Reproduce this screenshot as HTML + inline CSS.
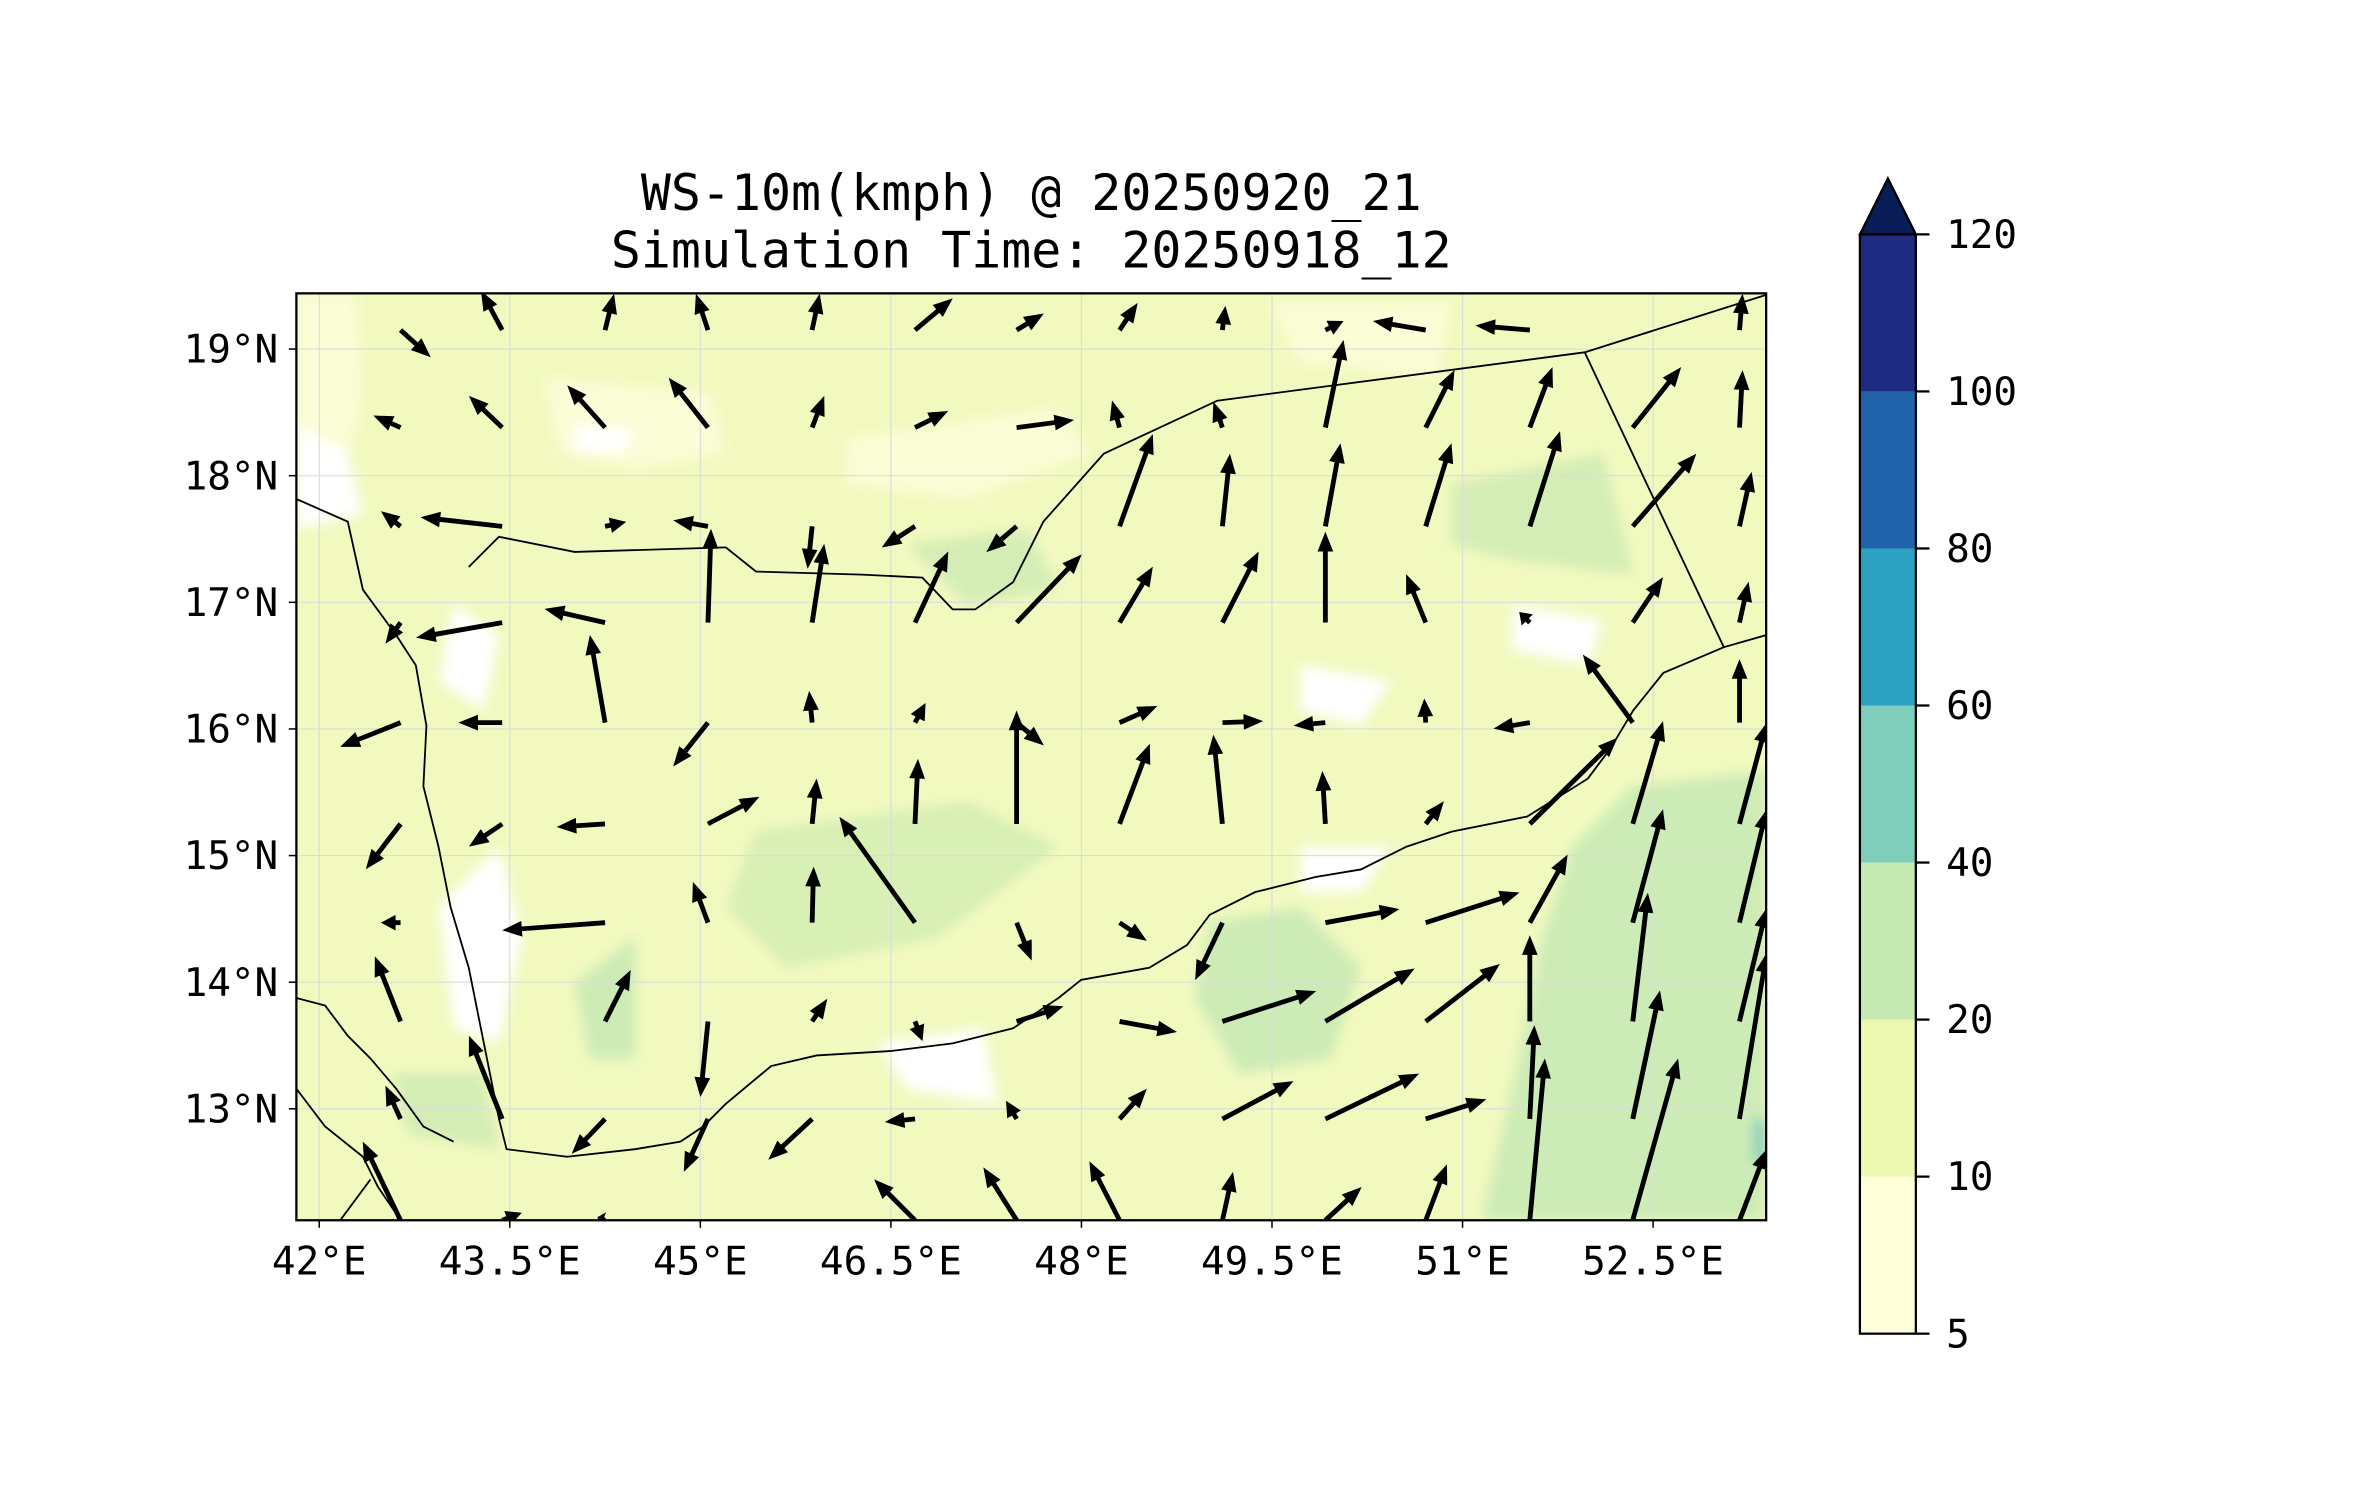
<!DOCTYPE html>
<html><head><meta charset="utf-8"><style>
html,body{margin:0;padding:0;background:#fff;}
svg{display:block;}
text{font-family:"DejaVu Sans Mono","Liberation Mono",monospace;fill:#000;}
</style></head><body>
<svg id="fig" width="2371" height="1500" viewBox="0 0 1568 992" preserveAspectRatio="none" xmlns="http://www.w3.org/2000/svg">
<defs>
<clipPath id="pc"><rect x="196" y="194" width="972" height="613"/></clipPath>
<filter id="bl"><feGaussianBlur stdDeviation="4"/></filter>
</defs>
<text x="682" y="139" font-size="33" text-anchor="middle">WS-10m(kmph) @ 20250920_21</text>
<text x="682" y="177" font-size="33" text-anchor="middle">Simulation Time: 20250918_12</text>
<g id="plot" clip-path="url(#pc)">
<rect x="196" y="194" width="972" height="613" fill="#f1f9bf"/>
<g filter="url(#bl)">
<path d="M196,194 L235,194 L240,260 L225,330 L196,330Z" fill="#fbfdd6"/>
<path d="M290,600 L330,560 L345,620 L330,690 L300,680Z" fill="#ffffff"/>
<path d="M300,400 L330,420 L320,470 L290,450Z" fill="#ffffff"/>
<path d="M196,280 L230,300 L240,340 L196,350Z" fill="#ffffff"/>
<path d="M360,250 L470,260 L480,300 L420,310 L370,300Z" fill="#fbfdd6"/>
<path d="M380,280 L420,285 L410,300 L380,298Z" fill="#ffffff"/>
<path d="M560,290 L700,270 L720,300 L640,330 L560,320Z" fill="#fbfdd6"/>
<path d="M840,200 L960,200 L950,250 L860,240Z" fill="#fbfdd6"/>
<path d="M1000,400 L1060,410 L1050,440 L1000,430Z" fill="#ffffff"/>
<path d="M860,440 L920,450 L900,480 L860,470Z" fill="#ffffff"/>
<path d="M860,560 L920,560 L900,590 L860,590Z" fill="#ffffff"/>
<path d="M580,690 L650,680 L660,730 L600,720Z" fill="#ffffff"/>
<path d="M380,650 L420,620 L420,700 L390,700Z" fill="#cdebb6"/>
<path d="M500,550 L640,530 L700,560 L620,620 L520,640 L480,600Z" fill="#d8efb5"/>
<path d="M1040,560 L1080,520 L1168,510 L1168,807 L980,807 L1000,720 L1020,620Z" fill="#cdebb6"/>
<path d="M800,610 L860,600 L900,640 L880,700 L820,710 L790,660Z" fill="#cdebb6"/>
<path d="M960,320 L1060,300 L1080,380 L1000,370 L960,360Z" fill="#d4edb6"/>
<path d="M600,360 L680,350 L700,390 L640,400Z" fill="#d4edb6"/>
<path d="M260,710 L320,710 L330,760 L270,750Z" fill="#d4edb6"/>
<path d="M1160,740 L1168,740 L1168,770 L1160,770Z" fill="#7fcdbb"/>
</g>
<g id="grid" stroke="#dcdcdc" stroke-width="0.8"></g>
<g fill="none" stroke="#000" stroke-width="1.2">
<path d="M196,330 L230,345 L240,390 L262,420 L275,440 L282,480 L280,520 L290,560 L298,600 L310,640 L320,690 L330,740 L335,760 L375,765 L420,760 L450,755 L465,745 L480,730 L510,705 L540,698 L590,695 L630,690 L670,680 L700,660 L715,648 L760,640 L785,625 L800,605 L830,590 L870,580 L900,575 L930,560 L960,550 L1010,540 L1050,515 L1065,495 L1080,470 L1100,445 L1140,428 L1168,420"/>
<path d="M196,660 L215,665 L230,685 L245,700 L262,720 L280,745 L300,755 M196,720 L215,745 L240,765 L250,785 L265,807 M225,807 L245,780"/>
<path d="M310,375 L330,355 L380,365 L480,362 L500,378 L570,380 L610,382 L630,403 L645,403 L670,385 L690,345 L730,300 L805,265 L1048,233 L1168,195"/>
<path d="M1048,233 L1140,428"/>
</g>
<g id="arrows" fill="#000"></g>
</g>
<rect x="196" y="194" width="972" height="613" fill="none" stroke="#000" stroke-width="1.5"/>
<g id="axes"></g>
<g id="cbar"></g>
</svg>
<script>
// axis mapping (lon/lat -> display px)
const lonMin=41.82, lonMax=53.39, latMin=12.12, latMax=19.44;
const X0=196,X1=1168,Y0=194,Y1=807;
const lonTicks=[42,43.5,45,46.5,48,49.5,51,52.5];
const lonLabels=["42°E","43.5°E","45°E","46.5°E","48°E","49.5°E","51°E","52.5°E"];
const latTicks=[19,18,17,16,15,14,13];
const latLabels=["19°N","18°N","17°N","16°N","15°N","14°N","13°N"];
const gridLon=[42.64,43.44,44.25,45.06,45.88,46.69,47.49,48.30,49.11,49.92,50.71,51.53,52.34,53.18];
const gridLat=[19.15,18.38,17.60,16.84,16.05,15.25,14.47,13.69,12.92,12.12];
const uWind=[
[20,-14,6,-8,5,25,18,12,2,12,-35,-36,null,2],
[-18,-22,-25,-26,8,22,38,-5,-6,12,19,15,32,2],
[-13,-54,14,-23,-3,-22,-20,22,5,10,17,20,42,8],
[-10,-57,-40,2,8,22,43,22,24,0,-13,-7,20,6],
[-40,-29,-10,-23,-2,7,18,25,27,-21,-1,-24,-33,0],
[-23,-22,-32,34,3,2,0,20,-6,-2,12,58,20,18],
[-13,null,-68,-10,1,-50,10,18,-18,49,62,25,20,18],
[-17,null,17,-5,10,5,31,38,62,59,49,0,10,18],
[-10,-22,-22,-16,-29,-20,-7,18,47,62,40,3,18,18],
[-25,13,-5,null,null,-27,-22,-20,7,24,14,10,30,18]];
const vWind=[
[-18,26,24,24,24,21,11,18,16,6,6,3,null,24],
[8,21,28,33,21,11,5,18,17,58,38,40,40,38],
[10,6,3,4,-28,-14,-17,61,48,55,55,63,48,36],
[-14,-10,9,62,52,47,45,37,47,60,32,7,30,27],
[-16,0,58,-29,21,13,-15,11,1,-2,16,-4,45,42],
[-30,-15,-2,18,30,43,75,53,59,35,15,57,68,67],
[0,null,-5,27,37,70,-25,-12,-38,9,20,45,75,75],
[43,null,34,-50,15,-13,10,-7,20,35,38,57,85,75],
[22,55,-23,-35,-27,-2,12,20,25,30,13,62,85,110],
[52,5,2,null,null,27,35,39,32,22,37,107,107,47]];
const cbLevels=[5,10,20,40,60,80,100,120];
const cbColors=["#ffffd9","#edf8b1","#c7e9b4","#7fcdbb","#2ca1c2","#2163aa","#1d2c80"];
const cbLabels=["5","10","20","40","60","80","100","120"];

const NS="http://www.w3.org/2000/svg";
function xS(lon){return X0+(lon-lonMin)/(lonMax-lonMin)*(X1-X0);}
function yS(lat){return Y0+(latMax-lat)/(latMax-latMin)*(Y1-Y0);}
function mk(tag,at,parent){const e=document.createElementNS(NS,tag);for(const k in at)e.setAttribute(k,at[k]);parent.appendChild(e);return e;}

const grid=document.getElementById('grid');
lonTicks.forEach(t=>{const l=mk('line',{x1:xS(t),x2:xS(t),y1:Y0,y2:Y1},grid);

});
latTicks.forEach(t=>{const l=mk('line',{x1:X0,x2:X1,y1:yS(t),y2:yS(t)},grid);

});

const axes=document.getElementById('axes');
lonTicks.forEach((t,i)=>{
 const tk=mk('line',{x1:xS(t),x2:xS(t),y1:Y1,y2:Y1+5,stroke:'#000','stroke-width':1},axes);
 
 
 const tx=mk('text',{x:xS(t),y:Y1+36,'font-size':26,'text-anchor':'middle'},axes);
 tx.textContent=lonLabels[i];
 
 
});
latTicks.forEach((t,i)=>{
 const tk=mk('line',{x1:X0-5,x2:X0,y1:yS(t),y2:yS(t),stroke:'#000','stroke-width':1},axes);
 
 
 const tx=mk('text',{x:X0-12,y:yS(t)+9,'font-size':26,'text-anchor':'end'},axes);
 tx.textContent=latLabels[i];
 
 
});

// quiver arrows
const arr=document.getElementById('arrows');
const W=3.2, HL=13, HW=5.2;
for(let r=0;r<gridLat.length;r++)for(let c=0;c<gridLon.length;c++){
 const u=uWind[r][c], v=vWind[r][c]; if(u===null||v===null)continue;
 const x=xS(gridLon[c]), y=yS(gridLat[r]);
 const dx=u, dy=-v, L=Math.hypot(dx,dy); if(L<0.5)continue;
 const ux=dx/L, uy=dy/L, px=-uy, py=ux;
 const hl=Math.min(HL,L*0.75), sl=L-hl;
 const pts=[[0,-W/2],[sl,-W/2],[sl,-HW],[L,0],[sl,HW],[sl,W/2],[0,W/2]]
  .map(([a,b])=>(x+ux*a+px*b).toFixed(1)+','+(y+uy*a+py*b).toFixed(1)).join(' ');
 const p=mk('polygon',{points:pts},arr);
 
 
}

// colorbar
const cb=document.getElementById('cbar');
const CX=1230,CW=37,CT=155,CB=882;
const seg=(CB-CT)/(cbLevels.length-1);
for(let i=0;i<cbColors.length;i++){
 const yb=CB-i*seg;
 const s=mk('rect',{x:CX,y:yb-seg,width:CW,height:seg,fill:cbColors[i]},cb);
 
 
}
const tri=mk('polygon',{points:`${CX},${CT} ${CX+CW/2},${CT-37} ${CX+CW},${CT}`,fill:'#081d58',stroke:'#000','stroke-width':1.5},cb);


const fr=mk('rect',{x:CX,y:CT,width:CW,height:CB-CT,fill:'none',stroke:'#000','stroke-width':1.5},cb);


cbLabels.forEach((t,i)=>{
 const y=CB-i*seg;
 const tk=mk('line',{x1:CX+CW,x2:CX+CW+9,y1:y,y2:y,stroke:'#000','stroke-width':1.5},cb);
 
 
 const tx=mk('text',{x:CX+CW+20,y:y+9,'font-size':26},cb);
 tx.textContent=t;
 
 
});
</script>
</body></html>
